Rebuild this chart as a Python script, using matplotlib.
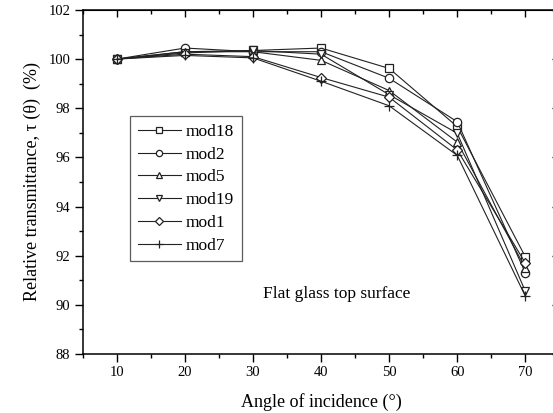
import matplotlib
matplotlib.use("Agg")
import matplotlib.pyplot as plt
from matplotlib.ticker import MultipleLocator

plt.rcParams['font.family'] = ['Liberation Serif', 'DejaVu Serif']

# angle of incidence (deg)
angles = [10, 20, 30, 40, 50, 60, 70]

# relative transmittance (%) per model
mod18 = [100.0, 100.30, 100.35, 100.45, 99.62, 97.25, 91.95]
mod2 = [100.0, 100.45, 100.30, 100.30, 99.22, 97.45, 91.30]
mod5 = [100.0, 100.30, 100.30, 99.95, 98.72, 96.62, 91.50]
mod19 = [100.0, 100.25, 100.35, 100.20, 98.55, 96.98, 90.55]
mod1 = [100.0, 100.20, 100.10, 99.25, 98.45, 96.30, 91.70]
mod7 = [100.0, 100.15, 100.05, 99.10, 98.10, 96.08, 90.35]

series = [("mod18", mod18, "s"), ("mod2", mod2, "o"), ("mod5", mod5, "^"),
          ("mod19", mod19, "v"), ("mod1", mod1, "D"), ("mod7", mod7, "+")]

fig = plt.figure(figsize=(5.53, 4.13), dpi=100)
ax = fig.add_axes([0.1496, 0.1429, 0.862, 0.833])

for name, vals, m in series:
    ms = 5 if m == "D" else 6
    if m == "+":
        ms = 7
    ax.plot(angles, vals, color="#222222", lw=0.8, marker=m, ms=ms,
            mfc="white", mec="#222222", mew=0.9, label=name)

ax.set_xlim(5, 75)
ax.set_ylim(88, 102)
ax.xaxis.set_major_locator(MultipleLocator(10))
ax.xaxis.set_minor_locator(MultipleLocator(5))
ax.yaxis.set_major_locator(MultipleLocator(2))
ax.yaxis.set_minor_locator(MultipleLocator(1))

ax.tick_params(axis="both", which="both", labelsize=10.5)
ax.tick_params(axis="both", which="major", direction="out", length=5.5, width=1)
ax.tick_params(axis="both", which="minor", direction="out", length=3, width=1)
for sp in ax.spines.values():
    sp.set_linewidth(1.1)

# inward ticks on the top and right frame
top = ax.secondary_xaxis("top")
top.xaxis.set_major_locator(MultipleLocator(10))
top.xaxis.set_minor_locator(MultipleLocator(5))
top.tick_params(which="major", direction="in", length=5, width=1, labeltop=False)
top.tick_params(which="minor", direction="in", length=3, width=1)
right = ax.secondary_yaxis("right")
right.yaxis.set_major_locator(MultipleLocator(2))
right.yaxis.set_minor_locator(MultipleLocator(1))
right.tick_params(which="major", direction="in", length=5, width=1, labelright=False)
right.tick_params(which="minor", direction="in", length=3, width=1)

ax.set_xlabel("Angle of incidence (°)", fontsize=13, labelpad=10)
ax.set_ylabel("Relative transmittance, τ (θ)  (%)", fontsize=13, labelpad=5)

ax.text(42.3, 90.46, "Flat glass top surface", fontsize=12.5,
        ha="center", va="center")

leg = ax.legend(loc="upper left", bbox_to_anchor=(0.099, 0.692), fontsize=12.5,
                frameon=True, fancybox=False, edgecolor="#333333",
                handlelength=2.5, handletextpad=0.25, labelspacing=0.38,
                borderpad=0.45, borderaxespad=0, markerscale=0.75)
leg.get_frame().set_linewidth(0.9)

fig.savefig("out.png", dpi=100)
